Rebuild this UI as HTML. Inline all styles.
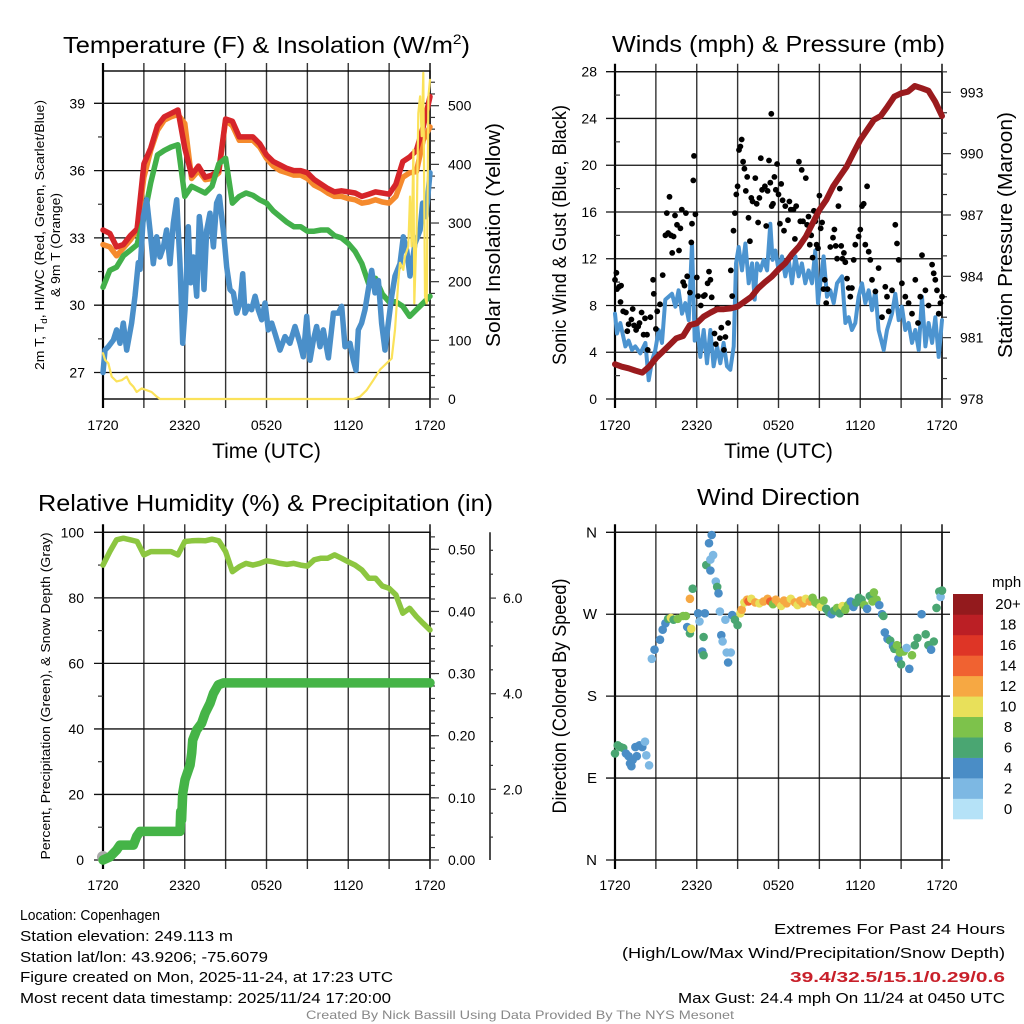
<!DOCTYPE html>
<html><head><meta charset="utf-8"><style>
html,body{margin:0;padding:0;background:#fff;}
svg{display:block;font-family:"Liberation Sans",Arial,sans-serif;}
</style></head><body>
<svg id="chart" width="1024" height="1024" viewBox="0 0 1024 1024" xmlns="http://www.w3.org/2000/svg">
<rect x="0" y="0" width="1024" height="1024" fill="#fff"/>
<text x="63" y="53" font-size="23" textLength="407" lengthAdjust="spacingAndGlyphs">Temperature (F) &amp; Insolation (W/m<tspan font-size="14" dy="-9">2</tspan><tspan dy="9">)</tspan></text>
<text x="612" y="52" font-size="23" textLength="333" lengthAdjust="spacingAndGlyphs">Winds (mph) &amp; Pressure (mb)</text>
<text x="38" y="511" font-size="23" textLength="455" lengthAdjust="spacingAndGlyphs">Relative Humidity (%) &amp; Precipitation (in)</text>
<text x="697" y="505" font-size="23" textLength="163" lengthAdjust="spacingAndGlyphs">Wind Direction</text>
<text x="266.5" y="458" font-size="21" text-anchor="middle">Time (UTC)</text>
<text x="778.5" y="458" font-size="21" text-anchor="middle">Time (UTC)</text>
<text transform="translate(500,235) rotate(-90)" font-size="20" text-anchor="middle" textLength="224" lengthAdjust="spacingAndGlyphs">Solar Insolation (Yellow)</text>
<text transform="translate(44,235) rotate(-90)" font-size="13" text-anchor="middle" textLength="270" lengthAdjust="spacingAndGlyphs">2m T, T<tspan font-size="9" dy="3">d</tspan><tspan dy="-3">, HI/WC (Red, Green, Scarlet/Blue)</tspan></text>
<text transform="translate(60,245) rotate(-90)" font-size="13" text-anchor="middle" textLength="104" lengthAdjust="spacingAndGlyphs">&amp; 9m T (Orange)</text>
<text transform="translate(566,235) rotate(-90)" font-size="19" text-anchor="middle" textLength="260" lengthAdjust="spacingAndGlyphs">Sonic Wind &amp; Gust (Blue, Black)</text>
<text transform="translate(1012,235) rotate(-90)" font-size="20" text-anchor="middle" textLength="246" lengthAdjust="spacingAndGlyphs">Station Pressure (Maroon)</text>
<text transform="translate(50,696) rotate(-90)" font-size="13" text-anchor="middle" textLength="327" lengthAdjust="spacingAndGlyphs">Percent, Precipitation (Green), &amp; Snow Depth (Gray)</text>
<text transform="translate(566,696) rotate(-90)" font-size="19" text-anchor="middle" textLength="235" lengthAdjust="spacingAndGlyphs">Direction (Colored By Speed)</text>
<text x="992" y="587" font-size="15">mph</text>
<g font-size="15">
<text x="20" y="920" textLength="140" lengthAdjust="spacingAndGlyphs">Location: Copenhagen</text>
<text x="20" y="941" textLength="213" lengthAdjust="spacingAndGlyphs">Station elevation: 249.113 m</text>
<text x="20" y="962" textLength="248" lengthAdjust="spacingAndGlyphs">Station lat/lon: 43.9206; -75.6079</text>
<text x="20" y="982" textLength="373" lengthAdjust="spacingAndGlyphs">Figure created on Mon, 2025-11-24, at 17:23 UTC</text>
<text x="20" y="1003" textLength="371" lengthAdjust="spacingAndGlyphs">Most recent data timestamp: 2025/11/24 17:20:00</text>
</g>
<g font-size="15" text-anchor="end">
<text x="1005" y="934" textLength="231" lengthAdjust="spacingAndGlyphs">Extremes For Past 24 Hours</text>
<text x="1005" y="958" textLength="383" lengthAdjust="spacingAndGlyphs">(High/Low/Max Wind/Precipitation/Snow Depth)</text>
<text x="1005" y="982" font-weight="bold" fill="#c8202a" textLength="215" lengthAdjust="spacingAndGlyphs">39.4/32.5/15.1/0.29/0.6</text>
<text x="1005" y="1003" textLength="327" lengthAdjust="spacingAndGlyphs">Max Gust: 24.4 mph On 11/24 at 0450 UTC</text>
</g>
<text x="520" y="1019" font-size="12" fill="#888" text-anchor="middle" textLength="428" lengthAdjust="spacingAndGlyphs">Created By Nick Bassill Using Data Provided By The NYS Mesonet</text>
</svg>
<script>
const halfHours = [0,0.5,1,1.5,2,2.5,3,3.5,4,4.5,5,5.5,6,6.5,7,7.5,8,8.5,9,9.5,10,10.5,11,11.5,12,12.5,13,13.5,14,14.5,15,15.5,16,16.5,17,17.5,18,18.5,19,19.5,20,20.5,21,21.5,22,22.5,23,23.5,24];
const xTickLabels = ["1720","2320","0520","1120","1720"];
const tempRed = [33.35,33.2,32.6,32.7,33.1,33.4,36.3,37.0,38.0,38.4,38.55,38.7,37.0,35.8,36.2,35.7,35.8,36.0,38.3,38.2,37.5,37.5,37.5,37.2,36.7,36.4,36.25,36.1,36.0,36.0,35.9,35.6,35.4,35.2,35.05,35.1,35.05,35.0,34.85,34.95,35.05,35.0,34.95,35.4,36.4,36.6,36.9,37.95,39.3];
const tempOrange = [32.7,32.6,32.2,32.55,32.9,33.35,35.7,36.9,37.8,38.25,38.4,38.5,38.1,35.65,36.0,35.6,35.65,35.9,38.25,38.0,37.35,37.35,37.35,37.05,36.55,36.2,36.0,35.9,35.8,35.8,35.65,35.35,35.2,35.0,34.85,34.85,34.75,34.7,34.55,34.6,34.7,34.6,34.55,34.85,35.7,35.9,35.95,37.35,37.95];
const tempGreen = [30.8,31.55,31.7,32.2,32.45,32.7,33.9,35.45,36.7,36.9,37.05,37.15,34.85,35.3,35.15,35.0,35.3,36.3,36.55,34.55,34.85,35.0,34.9,34.7,34.55,34.2,33.95,33.7,33.5,33.5,33.3,33.3,33.35,33.35,33.1,33.0,32.75,32.4,31.85,30.95,31.2,30.5,30.15,30.15,29.95,29.5,29.8,30.1,30.4];
const dewTimes = [0,0.15,0.39,0.76,1.0,1.25,1.49,1.74,2.1,2.35,2.59,2.72,2.96,3.21,3.45,3.69,3.94,4.18,4.43,4.67,4.92,5.16,5.41,5.65,5.85,6.02,6.26,6.43,6.63,6.88,7.07,7.24,7.41,7.61,7.85,8.1,8.34,8.54,8.71,8.88,9.08,9.32,9.57,9.81,10.06,10.25,10.42,10.67,10.91,11.16,11.4,11.65,11.89,12.13,12.38,12.62,12.99,13.36,13.72,14.09,14.46,14.7,14.95,15.19,15.44,15.68,15.93,16.17,16.54,16.91,17.27,17.52,17.76,18.13,18.37,18.57,18.74,18.98,19.23,19.47,19.72,19.96,20.21,20.45,20.7,20.94,21.19,21.43,21.8,22.04,22.29,22.53,22.9,23.27,23.46,23.71,24];
const dewBlue = [27.0,28.0,28.15,28.45,28.9,28.3,29.2,28.0,29.2,30.4,31.9,31.6,33.95,34.7,33.35,31.85,33.05,32.15,32.6,33.35,31.85,33.65,34.7,31.85,28.3,29.8,33.5,31.0,32.15,30.4,33.95,33.05,30.7,33.35,34.1,32.6,34.55,34.85,33.95,33.05,31.7,30.7,30.55,29.65,30.1,31.4,29.65,29.95,29.8,30.4,29.8,29.35,30.1,28.9,29.2,28.75,28.0,28.6,28.3,29.05,28.3,27.7,29.5,27.55,28.45,29.05,28.15,28.9,27.65,29.65,29.65,29.95,28.15,28.3,27.55,27.1,28.9,29.2,29.8,30.7,31.55,30.55,31.1,29.2,28.0,29.2,30.4,31.3,31.85,33.05,32.45,31.3,32.75,33.35,34.55,33.95,35.9];
const solarTimes = [0,0.15,0.39,0.64,1.0,1.37,1.74,1.98,2.23,2.47,2.84,3.2,3.57,3.94,4.18,18.37,18.86,19.35,19.84,20.33,20.82,21.19,21.43,21.68,21.8,22.04,22.16,22.41,22.53,22.65,22.78,22.85,23.02,23.14,23.27,23.39,23.51,23.63,23.76,23.88,24];
const solarVals = [78,67,61,38,30,32,38,27,21,12,18,15,12,4,0,0,4,15,32,50,61,69,118,203,232,220,243,260,345,260,425,163,288,487,516,448,556,175,163,516,544];
const tempTicks = [27,30,33,36,39];
const solarTicks = [0,100,200,300,400,500];

const pressure = [979.7,979.58,979.5,979.39,979.29,979.58,979.99,980.32,980.64,980.97,981.08,981.62,981.7,982.03,982.22,982.39,982.39,982.43,982.52,982.76,983.0,983.41,983.71,983.98,984.34,984.64,985.09,985.45,985.94,986.59,987.25,987.73,988.39,988.88,989.36,990.02,990.67,991.16,991.65,991.84,992.3,992.79,992.95,993.03,993.31,993.2,993.08,992.54,991.84];
const windTimes = [0,0.15,0.39,0.76,1.0,1.25,1.49,1.86,2.23,2.47,2.72,2.96,3.21,3.45,3.69,3.94,4.18,4.43,4.67,4.92,5.16,5.41,5.65,5.85,6.02,6.26,6.51,6.75,7.0,7.24,7.49,7.73,7.97,8.22,8.46,8.71,8.88,9.08,9.32,9.57,9.81,10.06,10.25,10.42,10.67,10.91,11.16,11.4,11.57,11.77,12.01,12.26,12.5,12.75,12.99,13.24,13.48,13.72,13.97,14.21,14.46,14.7,14.9,15.07,15.31,15.56,15.8,16.05,16.29,16.66,16.91,17.15,17.39,17.64,17.88,18.13,18.37,18.62,18.86,19.11,19.35,19.72,19.96,20.33,20.57,20.82,21.06,21.31,21.55,21.8,22.04,22.29,22.53,22.78,23.02,23.27,23.51,23.76,24];
const windSpeed = [7.3,5.6,6.5,4.5,5.0,4.2,4.5,3.9,4.8,1.6,3.3,4.2,5.9,4.8,8.5,8.75,9.0,7.9,9.3,7.3,8.2,6.75,13.3,5.0,6.5,3.6,5.9,3.05,5.9,2.8,4.5,3.05,4.8,2.8,2.5,4.5,11.6,13.0,11.0,13.3,9.9,11.6,8.5,11.6,11.0,11.9,11.0,15.0,11.9,12.7,11.0,12.2,10.5,11.9,9.9,12.2,10.5,11.6,9.9,11.0,9.9,12.7,8.2,9.9,12.2,8.75,9.3,8.2,9.9,10.5,6.5,7.0,5.9,6.5,8.75,9.9,8.2,9.3,7.6,9.3,5.9,4.2,5.9,7.3,9.0,6.75,7.9,5.9,6.5,4.8,5.9,4.2,8.75,4.5,6.5,4.8,7.0,3.6,6.75];
const gustTimes = [0,0.1,0.15,0.3,0.45,0.4,0.6,0.8,0.9,1.0,1.2,1.3,1.4,1.55,1.7,1.8,1.95,2.1,2.2,2.35,2.4,2.6,2.8,2.85,3.0,3.1,3.3,3.5,3.7,3.8,3.9,4.0,4.1,4.2,4.3,4.4,4.55,4.7,4.8,4.9,5.0,5.1,5.2,5.3,5.5,5.6,5.65,5.75,5.8,5.9,6.0,6.1,6.3,6.5,6.6,6.8,6.9,7.0,7.1,7.3,7.4,7.5,7.7,7.8,8.0,8.1,8.3,8.5,8.6,8.7,8.8,8.9,9.0,9.1,9.2,9.3,9.4,9.5,9.6,9.7,9.8,9.9,10.0,10.1,10.3,10.4,10.5,10.6,10.7,10.8,11.0,11.1,11.2,11.3,11.4,11.47,11.5,11.6,11.7,11.8,11.9,12.0,12.1,12.2,12.3,12.4,12.5,12.7,12.8,12.9,13.1,13.2,13.3,13.5,13.6,13.7,13.8,14.0,14.1,14.2,14.3,14.4,14.5,14.6,14.7,14.8,14.9,15.0,15.1,15.2,15.3,15.4,15.5,15.6,15.8,16.0,16.1,16.2,16.3,16.4,16.5,16.6,16.7,16.8,16.9,17.03,17.15,17.27,17.39,17.52,17.64,17.88,18.0,18.13,18.25,18.37,18.5,18.62,18.74,18.86,19.11,19.35,19.6,19.84,19.96,20.09,20.33,20.57,20.7,20.82,21.06,21.31,21.55,21.8,22.04,22.24,22.41,22.53,22.78,23.02,23.27,23.39,23.51,23.63,23.76,23.88,24];
const gustSpeed = [10.2,10.8,9.4,9.6,9.7,8.3,7.5,7.4,5.8,6.4,6.8,7.7,6.3,5.9,6.2,6.5,7.4,5.5,6.9,5.5,4.2,7.0,10.2,9.0,6.0,7.5,8.1,10.6,14.0,15.9,14.2,17.3,14.0,12.5,13.9,15.7,14.9,12.7,14.6,16.2,10.0,9.7,15.9,10.5,9.1,13.4,15.0,18.7,20.8,15.8,10.4,8.8,8.0,8.8,8.9,9.9,10.9,10.2,8.7,5.6,4.7,7.8,5.2,6.1,4.2,5.3,6.5,11.0,8.8,14.4,15.9,17.5,18.2,21.3,21.6,22.2,20.3,19.7,17.8,19.0,15.5,13.5,17.2,16.9,18.9,16.7,15.1,17.2,20.6,17.9,18.2,14.8,17.8,20.4,18.5,24.4,16.5,16.7,19.0,17.9,20.1,17.5,15.0,18.4,17.0,14.4,16.5,15.3,16.9,16.2,16.2,13.7,16.5,20.3,15.2,19.6,15.2,18.9,14.9,15.6,13.2,14.0,12.1,16.1,15.2,13.2,12.9,17.4,14.6,15.1,9.4,10.2,8.2,9.4,13.0,13.8,14.5,13.1,12.0,16.5,18.0,13.1,12.0,12.5,11.7,10.3,9.5,8.75,9.5,11.9,13.2,13.9,14.5,16.5,16.7,13.2,18.2,12.6,11.9,10.2,9.2,11.2,7.0,9.6,8.75,7.5,9.3,14.9,13.3,11.9,9.9,8.75,8.2,7.3,10.2,6.5,8.75,12.3,9.3,8.0,11.5,10.75,10.2,9.3,7.3,8.2,8.75];
const windTicks = [0,4,8,12,16,20,24,28];
const pressureTicks = [978,981,984,987,990,993];

const rh = [90.0,94.1,97.7,98.2,97.7,97.2,93.1,94.1,94.1,94.1,94.1,93.1,97.2,97.4,97.5,97.4,97.9,97.4,94.1,88.0,89.5,90.5,90.0,90.5,91.3,91.0,90.5,90.2,90.5,90.0,89.7,91.6,92.1,92.1,93.1,92.1,91.0,90.0,88.5,86.0,86.0,83.6,82.9,80.9,75.3,76.8,74.3,72.2,70.2];
const precipTimes = [0,0.51,1.0,1.25,2.23,2.47,2.72,5.65,5.7,5.77,5.85,6.02,6.39,6.51,6.58,6.87,7.24,7.49,7.85,8.1,8.46,8.83,24];
const precipVals = [0,0.005,0.016,0.024,0.024,0.038,0.046,0.046,0.078,0.064,0.107,0.129,0.153,0.172,0.193,0.209,0.22,0.236,0.252,0.268,0.282,0.285,0.285];
const snowTimes = [0];
const snowVals = [0.52];
const rhTicks = [0,20,40,60,80,100];
const precipTicks = [0,0.1,0.2,0.3,0.4,0.5];
const precipTickLabels = ["0.00","0.10","0.20","0.30","0.40","0.50"];
const snowTicks = [2,4,6];
const snowTickLabels = ["2.0","4.0","6.0"];

const dirTimes = [0,0.2,0.4,0.6,0.8,1.0,1.1,1.2,1.3,1.5,1.6,1.8,2.0,2.2,2.3,2.5,
2.7,2.9,3.3,3.5,3.7,3.9,4.1,4.3,4.6,5.0,5.2,
5.3,5.5,5.5,5.6,5.7,6.1,6.2,6.4,6.5,6.5,6.6,6.7,6.9,7.0,7.0,7.1,7.2,7.4,7.5,7.6,7.7,7.8,7.9,8.1,8.2,8.3,8.5,8.6,8.8,9.0,9.2,9.3,
9.5,9.7,9.8,10.0,10.3,10.6,10.9,11.2,11.4,11.6,11.8,12.0,12.2,12.4,12.6,12.9,13.2,13.4,13.6,13.8,14.0,14.3,14.5,14.7,14.9,15.1,15.3,15.5,15.7,15.9,16.1,16.3,16.5,16.7,16.9,17.1,17.3,17.5,17.7,17.9,18.1,18.3,18.5,18.7,18.9,19.0,19.2,19.4,19.6,19.7,19.8,20.0,20.2,20.4,20.5,20.7,20.8,20.9,21.0,21.2,21.4,21.6,21.8,22.0,22.2,22.5,22.8,23.0,23.2,23.4,23.6,23.8,23.9,24.0];
const dirDegrees = [117,126,124,123,117,114,106,103,110,124,114,126,124,130,115,104,
221,231,242,253,260,265,266,264,265,268,268,
256,287,249,254,298,271,262,229,225,245,271,324,348,330,318,357,335,306,300,293,273,247,240,264,228,217,228,269,264,258,271,275,
283,286,284,287,283,282,284,287,284,281,286,283,279,285,282,287,283,280,285,282,287,284,288,283,281,278,285,276,272,270,274,277,271,279,275,280,284,278,283,288,286,280,276,290,284,294,286,280,270,268,250,243,241,235,232,236,221,228,215,229,233,210,225,236,244,270,248,236,231,240,277,295,289,296];
const dirSpeeds = [7,7,7,7,5,5,5,5,5,5,5,5,5,3,3,3,
3,5,5,5,5,7,11,7,9,9,9,
5,13,7,11,7,5,3,5,7,7,5,7,5,3,5,5,3,3,7,5,3,5,3,3,3,5,3,5,7,7,11,13,
11,13,15,11,13,11,13,13,15,9,13,13,11,13,13,11,13,11,13,13,11,13,9,9,9,11,9,7,7,5,7,9,7,11,9,9,5,5,7,7,7,9,5,7,9,9,9,5,5,7,5,5,7,5,7,9,5,9,7,9,3,5,9,7,7,5,7,7,5,7,7,7,3,7];
const dirTicks = [0,90,180,270,360];
const dirTickLabels = ["N","E","S","W","N"];
const speedBinLabels = ["0","2","4","6","8","10","12","14","16","18","20+"];
const speedBinColors = ["#b5e2f7","#7db8e3","#4a8dc6","#4aa672","#7dc24b","#e8e05a","#f6a843","#f06231","#de3526","#bb1f25","#931a1d"];

const NS = "http://www.w3.org/2000/svg";
const svg = document.getElementById("chart");
function mk(tag, parent){ const e=document.createElementNS(NS,tag); parent.appendChild(e); return e; }
function timeX(x0,x1){ return t => x0 + t*(x1-x0)/24; }
function linY(v0,y0,v1,y1){ return v => y0 + (v-v0)*(y1-y0)/(v1-v0); }

function frame(g, x0,x1,y0,y1, name){
  for(let k=0;k<=8;k++){
    const x = x0 + k*(x1-x0)/8;
    const l = mk("line", g);
    l.setAttribute("x1",x); l.setAttribute("x2",x); l.setAttribute("y1",y0-8); l.setAttribute("y2",y1+9);
    l.setAttribute("stroke", (k===0||k===8)?"#000":"#333"); l.setAttribute("stroke-width",(k===0)?2.2:1.4);
    
    
  }
  const r = mk("rect", g);
  r.setAttribute("x",x0); r.setAttribute("y",y0); r.setAttribute("width",x1-x0); r.setAttribute("height",y1-y0);
  r.setAttribute("fill","none"); r.setAttribute("stroke","#000"); r.setAttribute("stroke-width",1.4);
  
  
}
function xLabels(g, x0,x1,y, name){
  xTickLabels.forEach((lab,k)=>{
    const t = mk("text", g);
    t.setAttribute("x", x0 + k*(x1-x0)/4); t.setAttribute("y", y);
    t.setAttribute("font-size","14"); t.setAttribute("text-anchor","middle");
    t.textContent = lab;
    
    
  });
}
function hGrid(g, vals, yf, x0, x1, name){
  vals.forEach(v=>{
    const l = mk("line", g);
    l.setAttribute("x1",x0); l.setAttribute("x2",x1); l.setAttribute("y1",yf(v)); l.setAttribute("y2",yf(v));
    l.setAttribute("stroke","#111"); l.setAttribute("stroke-width",1.3);
    
    
  });
}
function yLabels(g, vals, labels, yf, x, anchor, name, size){
  vals.forEach((v,i)=>{
    const t = mk("text", g);
    t.setAttribute("x", x); t.setAttribute("y", yf(v)+5);
    t.setAttribute("font-size", size||"14"); t.setAttribute("text-anchor", anchor);
    t.textContent = labels ? labels[i] : String(v);
    
    
  });
}
function ticks(g, ys, xa, xb, name, w){
  ys.forEach(y=>{
    const l = mk("line", g);
    l.setAttribute("x1",xa); l.setAttribute("x2",xb); l.setAttribute("y1",y); l.setAttribute("y2",y);
    l.setAttribute("stroke","#333"); l.setAttribute("stroke-width",w||1.2);
    
    
  });
}
function series(g, ts, vs, xf, yf, color, w, name){
  const p = mk("polyline", g);
  p.setAttribute("points", ts.map((t,i)=>xf(t).toFixed(1)+","+yf(vs[i]).toFixed(1)).join(" "));
  p.setAttribute("fill","none"); p.setAttribute("stroke",color); p.setAttribute("stroke-width",w);
  p.setAttribute("stroke-linejoin","round"); p.setAttribute("stroke-linecap","round");
  
  
  return p;
}
function range(a,b,s){ const r=[]; for(let v=a; v<=b+1e-9; v+=s) r.push(v); return r; }

const defs = mk("defs", svg);
const cp = mk("clipPath", defs); cp.setAttribute("id","clip1");
const cr = mk("rect", cp); cr.setAttribute("x",95); cr.setAttribute("y",71); cr.setAttribute("width",345); cr.setAttribute("height",330);

{
  const g = mk("g", svg);
  
  
  const x0=103,x1=430,y0=71,y1=399;
  const xf = timeX(x0,x1);
  const yT = linY(39,103.3,27,372.5);
  const yS = linY(0,399,500,105.7);
  frame(g,x0,x1,y0,y1,"temperature");
  hGrid(g,tempTicks,yT,94,x1,"temperature");
  ticks(g, range(25.5,40.5,1.5).filter(v=>v%3!==0).map(yT).filter(y=>y>y0&&y<y1), x0-5, x0, "temperature-minor");
  ticks(g, solarTicks.map(yS), x1, x1+9, "insolation-major");
  ticks(g, range(20,560,20).filter(v=>v%100!==0).map(yS).filter(y=>y>y0), x1, x1+5, "insolation-minor");
  yLabels(g,tempTicks,null,yT,85,"end","temperature-y");
  yLabels(g,solarTicks,null,yS,448,"start","insolation-y");
  xLabels(g,x0,x1,430,"temperature");
  const c = mk("g", g); c.setAttribute("clip-path","url(#clip1)");
  
  
  series(c, halfHours, tempOrange, xf, yT, "#f58a2d", 5.5, "nine-meter-temperature-line");
  series(c, halfHours, tempRed, xf, yT, "#d6252a", 5.5, "two-meter-temperature-line");
  series(c, halfHours, tempGreen, xf, yT, "#42b04a", 5.5, "dewpoint-green-line");
  series(c, dewTimes, dewBlue, xf, yT, "#4a8fc9", 5.5, "wind-chill-blue-line");
  series(c, solarTimes, solarVals, xf, yS, "#fbe25a", 2.2, "solar-insolation-line");
}
{
  const g = mk("g", svg);
  
  
  const x0=615,x1=942,y0=71.7,y1=399;
  const xf = timeX(x0,x1);
  const yW = linY(0,399,28,71.7);
  const yP = linY(978,399,993,92.3);
  frame(g,x0,x1,y0,y1,"winds");
  hGrid(g,windTicks,yW,606,x1,"winds");
  ticks(g, range(2,26,4).map(yW), x0, x0+5, "wind-minor");
  ticks(g, pressureTicks.map(yP), x1, x1+9, "pressure-major");
  ticks(g, range(979,994,1).filter(v=>(v-978)%3!==0).map(yP).filter(y=>y>y0), x1, x1+5, "pressure-minor");
  yLabels(g,windTicks,null,yW,597,"end","wind-y");
  yLabels(g,pressureTicks,null,yP,960,"start","pressure-y");
  xLabels(g,x0,x1,430,"winds");
  series(g, windTimes, windSpeed, xf, yW, "#4c94d0", 4, "sonic-wind-line");
  gustTimes.forEach((t,i)=>{
    const d = mk("circle", g);
    d.setAttribute("cx", xf(t).toFixed(1)); d.setAttribute("cy", yW(gustSpeed[i]).toFixed(1)); d.setAttribute("r",2.9);
    d.setAttribute("fill","#000");
    
    
  });
  series(g, halfHours, pressure, xf, yP, "#9a1b1e", 6, "station-pressure-line");
}
{
  const g = mk("g", svg);
  
  
  const x0=103,x1=430,y0=532.3,y1=860;
  const xf = timeX(x0,x1);
  const yR = linY(0,860,100,532.3);
  const yPr = linY(0,860,0.5,549.3);
  const ySn = linY(2,789.3,4,693.7);
  frame(g,x0,x1,y0,y1,"humidity");
  hGrid(g,rhTicks,yR,94,x1,"humidity");
  ticks(g, range(10,90,20).map(yR), x0-5, x0, "humidity-minor");
  ticks(g, precipTicks.map(yPr), x1, x1+9, "precip-major");
  ticks(g, range(0.02,0.52,0.02).map(yPr).filter(y=>y>y0-1), x1, x1+5, "precip-minor");
  yLabels(g,rhTicks,null,yR,84,"end","humidity-y");
  yLabels(g,precipTicks,precipTickLabels,yPr,448,"start","precip-y");
  const ax = mk("line", g);
  ax.setAttribute("x1",490); ax.setAttribute("x2",490); ax.setAttribute("y1",y0); ax.setAttribute("y2",y1);
  ax.setAttribute("stroke","#222"); ax.setAttribute("stroke-width",1.6);
  
  
  ticks(g, snowTicks.map(ySn), 490, 496, "snow-major");
  ticks(g, range(1,7,0.5).filter(v=>v%2!==0).map(ySn).filter(y=>y>y0&&y<y1), 490, 493, "snow-minor");
  yLabels(g,snowTicks,snowTickLabels,ySn,503,"start","snow-y");
  xLabels(g,x0,x1,890,"humidity");
  series(g, halfHours, rh, xf, yR, "#8cc640", 5.5, "relative-humidity-line");
  snowTimes.forEach((t,i)=>{
    const d = mk("circle", g);
    d.setAttribute("cx", xf(t)); d.setAttribute("cy", y1-3); d.setAttribute("r",6);
    d.setAttribute("fill","#aaa");
    
    
  });
  series(g, precipTimes, precipVals, xf, yPr, "#45b447", 9.5, "precipitation-line");
}
{
  const g = mk("g", svg);
  
  
  const x0=615,x1=942,y0=532.3,y1=860;
  const xf = timeX(x0,x1);
  const yD = linY(0,860,360,532.3);
  frame(g,x0,x1,y0,y1,"direction");
  hGrid(g,dirTicks,yD,606,950,"direction");
  yLabels(g,dirTicks,dirTickLabels,yD,597,"end","direction-y","15");
  xLabels(g,x0,x1,890,"direction");
  dirTimes.forEach((t,i)=>{
    const bin = Math.min(10, Math.max(0, Math.floor(dirSpeeds[i]/2)));
    const d = mk("circle", g);
    d.setAttribute("cx", xf(t).toFixed(1)); d.setAttribute("cy", yD(dirDegrees[i]).toFixed(1)); d.setAttribute("r",4.3);
    d.setAttribute("fill", speedBinColors[bin]);
    
    
  });
  const cb = mk("g", g);
  
  
  const top=594, bot=819, h=(bot-top)/11;
  speedBinLabels.forEach((lab,k)=>{
    const y = bot - (k+1)*h;
    const r = mk("rect", cb);
    r.setAttribute("x",953); r.setAttribute("y",y.toFixed(2)); r.setAttribute("width",30); r.setAttribute("height",(h+0.3).toFixed(2));
    r.setAttribute("fill",speedBinColors[k]);
    
    
    const t = mk("text", cb);
    t.setAttribute("x",1008); t.setAttribute("y",(y+h/2+5).toFixed(1));
    t.setAttribute("font-size","15"); t.setAttribute("text-anchor","middle");
    t.textContent = lab;
    
    
  });
}
</script>
</body></html>
